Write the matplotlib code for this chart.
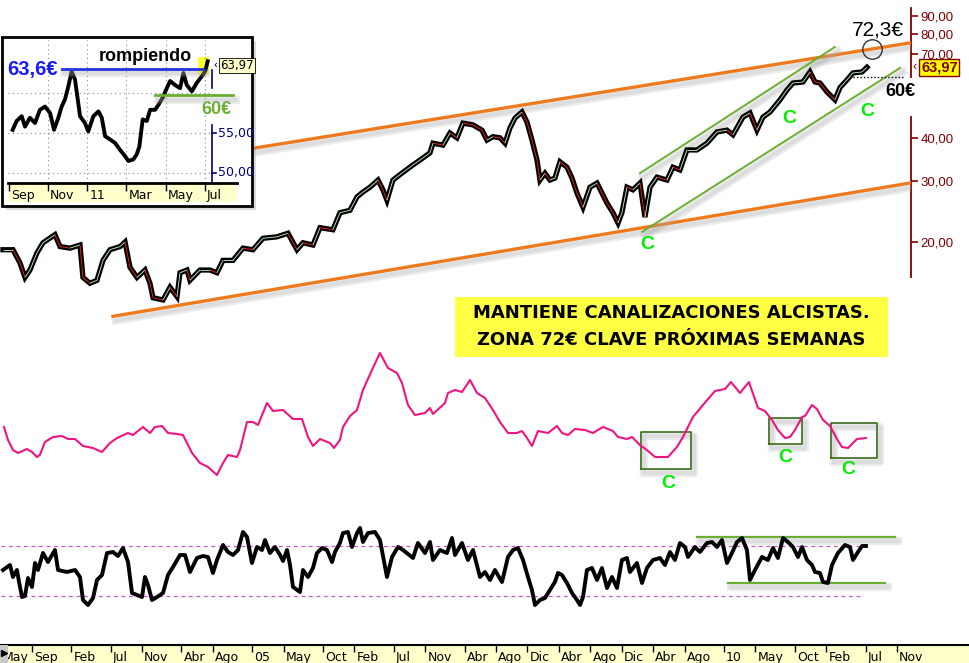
import numpy as np
import matplotlib.pyplot as plt
import matplotlib.patheffects as pe
from matplotlib.patches import Rectangle
from matplotlib.collections import LineCollection
from matplotlib.transforms import blended_transform_factory as blend

plt.rcParams['font.family'] = ['Liberation Sans', 'DejaVu Sans']

# x axis: months counted from May 2002
date_tick_m = [0, 4, 9, 14, 18, 23, 27, 32, 36, 41, 45, 50, 54, 59, 63, 67, 71, 75,
               79, 83, 87, 92, 96, 101, 105, 110, 114]
date_tick_lbl = ['May', 'Sep', 'Feb', 'Jul', 'Nov', 'Abr', 'Ago', '05', 'May', 'Oct', 'Feb',
                 'Jul', 'Nov', 'Abr', 'Ago', 'Dic', 'Abr', 'Ago', 'Dic', 'Abr', 'Ago', '10',
                 'May', 'Oct', 'Feb', 'Jul', 'Nov']

# precio semanal (EUR, escala log)
price_m = [0.31, 1.58, 2.47, 3.11, 3.74, 4.63, 5.4, 6.92, 7.56, 8.83, 10.1, 10.48, 11.37,
           12.26, 13.03, 13.92, 15.19, 15.83, 16.46, 17.35, 18.37, 19.0, 19.39, 20.66, 21.55,
           22.44, 22.82, 23.71, 24.09, 25.36, 26.63, 27.52, 28.29, 29.56, 30.83, 32.1, 33.37,
           35.15, 36.55, 37.7, 38.46, 39.73, 40.62, 42.27, 43.16, 44.44, 45.33, 46.09, 46.98,
           48.0, 48.63, 49.14, 49.9, 51.18, 52.45, 53.34, 54.61, 54.99, 56.26, 57.15, 58.04,
           58.8, 60.08, 61.22, 61.86, 62.62, 63.51, 64.15, 64.78, 65.42, 66.31, 66.95, 67.58,
           68.22, 68.6, 69.23, 69.87, 70.5, 71.14, 72.03, 72.67, 73.3, 74.07, 74.96, 75.85,
           76.48, 77.12, 77.88, 78.52, 79.02, 79.66, 80.42, 81.31, 81.95, 82.59, 83.48, 84.75,
           85.51, 86.4, 87.29, 88.56, 89.83, 91.11, 92.38, 93.14, 94.41, 95.3, 96.19, 96.95,
           97.85, 99.12, 100.01, 100.77, 102.04, 102.93, 103.57, 104.2, 105.09, 106.11,
           106.75, 107.64, 108.4, 109.55, 110.18]
price = [19.0, 19.0, 17.4, 15.8, 16.6, 18.6, 19.9, 21.0, 19.4, 19.2, 19.6, 15.8, 15.2,
         15.5, 17.7, 19.0, 19.4, 20.0, 16.9, 15.8, 16.6, 15.2, 13.8, 13.6, 14.8,
         13.9, 16.3, 16.6, 15.5, 16.6, 16.6, 16.3, 17.7, 17.7, 19.2, 19.0, 20.5,
         20.7, 21.2, 19.0, 19.9, 19.6, 22.0, 21.7, 24.3, 24.7, 27.0, 27.9, 28.8,
         30.2, 28.3, 26.4, 30.2, 31.8, 33.4, 34.5, 36.2, 38.6, 38.1, 41.3, 40.0,
         44.1, 43.6, 42.1, 39.4, 40.3, 40.0, 38.6, 42.7, 45.6, 47.5, 44.4, 39.4,
         34.5, 30.2, 31.6, 30.2, 30.6, 34.1, 32.9, 30.6, 27.7, 25.2, 28.8, 29.6,
         27.7, 25.9, 24.3, 22.7, 24.3, 28.8, 28.3, 29.6, 23.6, 28.8, 30.8, 30.2,
         32.9, 32.3, 36.9, 36.9, 38.6, 41.6, 42.1, 40.8, 45.9, 47.2, 42.1, 45.9,
         47.5, 51.5, 55.0, 57.6, 58.0, 62.0, 58.0, 57.6, 54.3, 51.5,
         55.9, 58.8, 61.6, 62.0, 63.97]

# oscilador rosa (distancia % a la media)
pink_m = [0.44, 0.95, 1.58, 2.22, 3.36, 4.0, 4.63, 5.0, 5.65, 6.67, 7.81, 8.58, 9.47, 10.48,
          11.76, 12.9, 13.92, 14.81, 16.2, 16.84, 18.11, 19.0, 19.64, 20.53, 21.29, 22.44,
          23.2, 24.35, 25.36, 26.38, 27.52, 28.29, 28.92, 30.07, 30.45, 31.34, 32.1, 32.74,
          33.88, 34.65, 35.92, 37.19, 38.33, 39.1, 39.73, 40.62, 41.89, 42.4, 43.16, 43.55,
          44.44, 45.33, 46.09, 47.23, 48.25, 49.27, 50.41, 51.05, 51.81, 52.7, 53.97, 54.61,
          54.99, 56.52, 56.9, 57.79, 58.68, 59.7, 60.59, 61.6, 62.62, 63.51, 64.53, 65.67,
          66.31, 66.95, 67.58, 68.35, 69.62, 70.76, 71.4, 72.16, 73.05, 74.32, 75.34, 76.61,
          77.88, 78.52, 79.66, 80.3, 81.31, 82.2, 83.22, 84.24, 84.87, 86.02, 86.78, 88.05,
          89.32, 90.85, 92.12, 92.89, 94.03, 95.17, 96.32, 97.21, 98.1, 98.86, 99.75, 100.39,
          101.03, 101.92, 102.3, 103.19, 103.82, 104.59, 105.48, 106.37, 107.0, 107.77,
          108.91, 110.05]
pink_v = [2.6, 0.0, -2.0, -2.6, -1.8, -2.4, -3.4, -3.0, -0.4, 0.6, 0.8, 0.2, 0.2, -1.2,
          -1.6, -2.4, -0.6, 0.4, 1.4, 1.0, 2.6, 1.4, 2.6, 2.8, 1.4, 1.2,
          1.0, -2.6, -4.6, -5.4, -7.0, -4.6, -3.0, -3.4, -2.0, 3.6, 3.6, 3.0,
          7.4, 5.8, 6.0, 4.2, 4.2, 0.6, -1.2, 0.2, -0.6, -1.6, 0.0, 2.6,
          4.8, 6.0, 10.0, 14.0, 17.4, 14.4, 13.4, 11.4, 7.0, 5.0, 5.4, 6.4,
          5.2, 7.4, 9.4, 10.0, 9.6, 12.0, 9.4, 8.4, 6.0, 3.6, 1.4, 1.4,
          1.8, 0.4, -1.2, 1.8, 1.4, 2.8, 1.4, 1.0, 2.2, 2.0, 1.4, 2.6,
          1.8, 0.6, 0.2, 0.6, -1.0, -2.0, -3.4, -3.4, -3.4, -1.4, 0.6, 4.6,
          7.0, 9.8, 10.2, 11.6, 9.4, 11.6, 6.4, 5.8, 4.0, 2.0, 0.4, 0.6,
          2.0, 4.6, 4.8, 7.0, 6.2, 4.0, 2.8, 0.2, -1.4, -1.6,
          0.2, 0.4]

# oscilador negro (tipo RSI, bandas 30/70)
osc_m = [0.31, 1.2, 1.58, 2.09, 2.35, 2.73, 3.11, 3.49, 4.0, 4.38, 4.76, 5.4, 6.03, 6.92,
         7.31, 8.45, 9.47, 10.1, 10.48, 11.12, 11.76, 12.26, 12.9, 13.54, 14.3, 14.93, 15.57,
         16.21, 16.72, 17.35, 17.99, 18.37, 18.75, 19.26, 19.9, 20.66, 21.29, 21.93, 22.82,
         23.46, 24.09, 24.98, 25.74, 26.38, 27.01, 27.52, 28.29, 28.92, 29.56, 30.2, 30.83,
         31.34, 31.97, 32.61, 33.25, 33.63, 34.26, 34.9, 35.54, 35.92, 36.43, 36.81, 37.19,
         38.08, 38.46, 39.1, 39.73, 40.24, 40.88, 41.51, 42.15, 42.53, 43.16, 43.55, 44.18,
         44.69, 45.33, 45.71, 46.09, 46.73, 47.62, 48.25, 49.14, 49.78, 50.54, 51.18, 52.45,
         53.08, 53.97, 54.61, 54.99, 55.88, 56.77, 57.41, 57.79, 58.68, 59.44, 60.08, 60.97,
         61.6, 62.24, 62.87, 63.77, 64.53, 65.17, 65.8, 66.44, 67.07, 67.58, 67.96, 68.6,
         69.23, 69.87, 70.5, 70.89, 71.4, 72.03, 72.67, 73.3, 73.69, 74.07, 74.57, 75.21,
         75.85, 76.48, 77.12, 77.75, 78.39, 79.02, 79.66, 80.04, 80.93, 81.57, 82.2, 82.97,
         83.86, 84.49, 85.13, 85.76, 86.4, 87.04, 87.42, 88.31, 88.94, 89.84, 90.47, 91.11,
         91.74, 92.38, 93.01, 93.65, 94.29, 94.92, 95.3, 95.94, 96.83, 97.59, 98.23, 98.86,
         99.5, 100.13, 100.77, 101.41, 101.92, 102.55, 103.19, 103.57, 104.2, 104.59, 105.22,
         105.73, 106.49, 107.38, 108.02, 108.4, 109.04, 109.55, 110.05]
osc_v = [50.8, 54.8, 45.2, 50.8, 41.2, 29.2, 30.0, 44.4, 37.2, 56.4, 50.8, 64.4, 57.2, 66.8,
         50.8, 49.2, 50.8, 45.2, 26.8, 22.8, 28.4, 42.8, 46.8, 64.4, 65.2, 62.0, 68.4,
         57.2, 32.4, 30.8, 29.2, 45.2, 38.8, 26.8, 29.2, 32.4, 46.8, 53.2, 62.8,
         62.8, 49.2, 60.4, 62.0, 61.2, 48.4, 58.8, 70.8, 65.2, 62.8, 66.8, 81.2,
         77.2, 56.4, 69.2, 66.8, 74.8, 64.4, 69.2, 62.8, 58.0, 66.8, 54.8, 37.2,
         33.2, 50.8, 45.2, 52.4, 64.4, 68.4, 66.8, 57.2, 65.2, 72.4, 80.4, 81.2,
         69.2, 80.4, 84.4, 73.2, 80.4, 81.2, 74.8, 45.2, 61.2, 69.2, 66.8, 60.4,
         72.4, 64.4, 73.2, 58.8, 66.8, 64.4, 76.4, 62.8, 72.4, 58.8, 66.8, 45.2,
         49.2, 42.8, 50.8, 41.2, 61.2, 66.8, 68.4, 58.8, 45.2, 34.8, 22.8, 26.8,
         28.4, 34.8, 41.2, 48.4, 46.8, 40.4, 32.4, 26.8, 22.8, 29.2, 50.8, 52.4,
         42.8, 52.4, 36.4, 45.2, 36.4, 58.8, 60.4, 49.2, 56.4, 40.4, 52.4, 58.8,
         60.4, 54.8, 65.2, 58.8, 72.4, 69.2, 61.2, 69.2, 65.2, 72.4, 73.2, 69.2,
         74.8, 56.4, 64.4, 73.2, 76.4, 66.8, 42.8, 50.8, 61.2, 58.8, 68.4, 60.4,
         76.4, 73.2, 69.2, 61.2, 69.2, 58.8, 54.8, 49.2, 48.4, 41.2, 40.4,
         54.8, 64.4, 70.8, 69.2, 58.8, 65.2, 70.0, 70.0]

# recuadro: ultimos 10 meses (meses desde sep 2010)
inset_t = [0.19, 0.39, 0.65, 0.82, 1.07, 1.33, 1.58, 1.84, 2.10, 2.30, 2.52, 2.69, 2.86, 3.03,
           3.20, 3.37, 3.49, 3.63, 3.88, 4.05, 4.31, 4.57, 4.74, 4.91, 5.16, 5.42, 5.67, 5.93,
           6.10, 6.35, 6.52, 6.66, 6.83, 7.04, 7.21, 7.46, 7.63, 7.85, 8.06, 8.23, 8.48, 8.74,
           8.91, 9.08, 9.34, 9.59, 9.85, 10.02, 10.15]
inset_p = [55.4, 56.5, 57.1, 55.8, 56.9, 56.25, 57.9, 58.3, 57.5, 55.4, 56.9, 58.3, 59.2, 60.8,
           62.7, 61.7, 59.6, 57.1, 56.25, 55.2, 57.1, 57.7, 56.9, 54.6, 54.2, 53.75, 52.9, 52.1,
           51.5, 51.7, 52.3, 53.3, 56.7, 56.5, 57.9, 57.9, 58.5, 59.4, 60.6, 61.5, 61.0, 60.6,
           62.5, 61.0, 60.2, 61.25, 62.1, 62.7, 63.97]
inset_tick_t = [0, 2, 4, 6, 8, 10]
inset_tick_lbl = ['Sep', 'Nov', '11', 'Mar', 'May', 'Jul']

price_ticks = [20, 30, 40, 70, 80, 90]
last_price = 63.97

ORANGE = '#ee7a1e'
LGREEN = '#6aae32'
CGREEN = '#00ee00'
DARKRED = '#800000'
PINK = '#f01482'
shadow = [pe.SimpleLineShadow(offset=(2, -3), shadow_color='#aaaaaa', alpha=0.22, linewidth=6),
          pe.SimpleLineShadow(offset=(2, -3), shadow_color='#aaaaaa', alpha=0.22, linewidth=3),
          pe.Normal()]

W, H = 970, 663
fig = plt.figure(figsize=(W / 100, H / 100), dpi=100)


def box(x0, y0, x1, y1):
    # pixel box (top-left origin) -> figure fraction rect
    return [x0 / W, 1 - y1 / H, (x1 - x0) / W, (y1 - y0) / H]


xlim = (-0.07, 115.78)

# ---------------- precio ----------------
ax = fig.add_axes(box(0, 0, 911, 340))
ax.set_yscale('log')
ax.set_xlim(*xlim)
ax.set_ylim(10.42, 100.07)
for s in ax.spines.values():
    s.set_visible(False)
ax.set_xticks([])
ax.yaxis.tick_right()
ax.set_yticks(price_ticks, [f'{v:.2f}'.replace('.', ',') for v in price_ticks])
ax.yaxis.set_minor_locator(plt.NullLocator())
ax.tick_params(axis='y', colors=DARKRED, labelsize=9.5, length=5, width=1.2, pad=2)
tr = blend(ax.transAxes, ax.transData)
ax.plot([1, 1], [60, 95], color=DARKRED, lw=1.3, transform=tr, clip_on=False)
ax.plot([1, 1], [15.8, 45.9], color=DARKRED, lw=1.3, transform=tr, clip_on=False)

ax.plot([32.4, 115.6], [37.4, 75.2], color=ORANGE, lw=2.4, path_effects=shadow, zorder=2)
ax.plot([14.3, 115.6], [12.2, 29.6], color=ORANGE, lw=2.4, path_effects=shadow, zorder=2)
ax.plot([81.3, 106.1], [31.6, 73.2], color=LGREEN, lw=1.4, path_effects=shadow, zorder=2)
ax.plot([81.6, 114.4], [21.4, 63.7], color=LGREEN, lw=1.4, path_effects=shadow, zorder=2)

ax.plot(price_m, price, color='black', lw=3.8, solid_joinstyle='miter', zorder=3)
pts = np.column_stack([price_m, price])
segs = np.stack([pts[:-1], pts[1:]], axis=1)
cols = ['#ff2020' if b < a else '#c8f5c8' for a, b in zip(price[:-1], price[1:])]
ax.add_collection(LineCollection(segs, colors=cols, linewidths=0.6, zorder=4))

ax.plot([108.4, 115], [60, 60], color='black', lw=1, ls=(0, (1, 1.5)), zorder=3)
ax.plot([110.8], [72.3], marker='o', ms=14, mfc='none', mec='#333333', mew=1, zorder=5)
ax.text(111.6, 82, '72,3€', fontsize=15, ha='center', va='center')
ax.text(114.4, 54.3, '60€', fontsize=13, fontweight='bold', ha='center', va='center')
for cm, cp in [(82.2, 19.7), (100.3, 45.6), (110.2, 47.5)]:
    ax.text(cm, cp, 'C', color=CGREEN, fontsize=14, fontweight='bold', ha='center', va='center')
ax.text(1.002, last_price, '‹', transform=tr, color=DARKRED, fontsize=9, ha='left', va='center')
ax.text(1.011, last_price, f'{last_price:.2f}'.replace('.', ','), transform=tr, color=DARKRED,
        fontsize=10.5, fontweight='bold', ha='left', va='center',
        bbox=dict(boxstyle='square,pad=0.12', fc='#ffff00', ec=DARKRED, lw=1))

# ---------------- oscilador rosa ----------------
ax2 = fig.add_axes(box(0, 340, 911, 495))
ax2.set_xlim(*xlim)
ax2.set_ylim(-11, 20)
ax2.axis('off')
ax2.plot(pink_m, pink_v, color=PINK, lw=1.5, zorder=3)
for (x0, x1, y0, y1) in [(81.44, 87.8, -5.8, 1.6), (97.72, 101.92, -0.8, 4.4),
                         (105.6, 111.45, -3.6, 3.4)]:
    ax2.plot([x0, x1, x1, x0, x0], [y0, y0, y1, y1, y0], color='#3b6b1c', lw=1.2,
             path_effects=shadow, zorder=2)
for cm, cv in [(84.87, -8.6), (99.75, -3.6), (107.77, -6.0)]:
    ax2.text(cm, cv, 'C', color=CGREEN, fontsize=14, fontweight='bold', ha='center', va='center')

# ---------------- oscilador negro ----------------
ax3 = fig.add_axes(box(0, 500, 911, 635))
ax3.set_xlim(*xlim)
ax3.set_ylim(-1.2, 106.8)
ax3.axis('off')
ax3.hlines([70, 30], 0, 109.55, colors='#cc55cc', lw=0.9, linestyles=(0, (3, 3)))
ax3.plot([88.56, 113.74], [77.2, 77.2], color=LGREEN, lw=1.6, path_effects=shadow)
ax3.plot([92.5, 112.47], [40.4, 40.4], color=LGREEN, lw=1.6, path_effects=shadow)
ax3.plot(osc_m, osc_v, color='black', lw=2.8, solid_joinstyle='round', zorder=3)

# ---------------- eje de fechas ----------------
axd = fig.add_axes(box(0, 645, 970, 663))
axd.set_xlim(-0.07, 123.28)
axd.set_ylim(0, 1)
axd.set_facecolor('#ffffcc')
axd.set_xticks([])
axd.set_yticks([])
for k, s in axd.spines.items():
    s.set_visible(k == 'top')
axd.spines['top'].set_linewidth(1.5)
trd = blend(axd.transData, axd.transAxes)
axd.vlines(date_tick_m, 0.6, 1, colors='black', lw=1, transform=trd)
for m, lbl in zip(date_tick_m, date_tick_lbl):
    axd.annotate(lbl, (m, 0.32), xycoords=trd, xytext=(1.5, 0), textcoords='offset points',
                 fontsize=9, ha='left', va='center', family='DejaVu Sans')
axd.add_patch(Rectangle((0, 0), 0.0085, 1, transform=axd.transAxes, fc='#c8c8c8', ec='none',
                        zorder=5))
axd.plot([0.004], [0.55], marker='>', color='black', ms=4, transform=axd.transAxes, zorder=6)

# ---------------- recuadro ----------------
fig.patches.append(Rectangle((6 / W, 1 - 210 / H), 250 / W, 169 / H, transform=fig.transFigure,
                             fc='#888888', alpha=0.3, ec='none', zorder=3))
fig.patches.append(Rectangle((2 / W, 1 - 206 / H), 250 / W, 169 / H, transform=fig.transFigure,
                             fc='white', ec='black', lw=2, zorder=3))

axi = fig.add_axes(box(8, 40, 212, 183), zorder=5)
axi.set_xlim(-0.05, 10.37)
axi.set_ylim(48.75, 66.625)
for s in axi.spines.values():
    s.set_visible(False)
axi.set_xticks(inset_tick_t[1:])
axi.set_yticks([50, 55, 60])
axi.tick_params(length=0, labelleft=False, labelbottom=False)
axi.grid(True, color='#888888', ls=(0, (1, 3)), lw=0.8)
tri = blend(axi.transAxes, axi.transData)
axi.plot([1, 1], [48.75, 56], color='#000080', lw=1.2, transform=tri, clip_on=False)
axi.plot([1, 1], [60.6, 62.9], color='#000080', lw=1.2, transform=tri, clip_on=False)
for v in [50, 55]:
    axi.plot([1, 1.02], [v, v], color='#000080', lw=1.2, transform=tri, clip_on=False)
    axi.text(1.03, v, f'{v:.2f}'.replace('.', ','), transform=tri, color='#000080',
             fontsize=9, ha='left', va='center', family='DejaVu Sans')
axi.add_patch(Rectangle((9.66, 62.25), 0.56, 2.25, fc='#ffff33', ec='none', zorder=1))
axi.plot(inset_t, inset_p, color='black', lw=2.8, zorder=3)
axi.plot([2.69, 9.93], [63.0, 63.0], color='#2233dd', lw=2, path_effects=shadow, zorder=4)
axi.plot([7.46, 11.45], [59.7, 59.7], color=LGREEN, lw=2, path_effects=shadow, zorder=4,
         clip_on=False)
axi.text(-0.1, 63.0, '63,6€', color='#1a1aff', fontsize=14.5, fontweight='bold', ha='left',
         va='center', clip_on=False)
axi.text(6.95, 64.6, 'rompiendo', fontsize=13, fontweight='bold', ha='center', va='center')
axi.text(10.58, 58.0, '60€', color=LGREEN, fontsize=13, fontweight='bold', ha='center',
         va='center', clip_on=False)
axi.text(1.005, last_price - 0.5, '‹', transform=tri, fontsize=8, ha='left', va='center')
axi.text(1.04, last_price - 0.5, f'{last_price:.2f}'.replace('.', ','), transform=tri,
         fontsize=8.5, ha='left', va='center', family='DejaVu Sans',
         bbox=dict(boxstyle='square,pad=0.1', fc='#ffffcc', ec='black', lw=0.6))

axid = fig.add_axes(box(8, 183, 237, 202), zorder=5)
axid.set_xlim(-0.05, 11.65)
axid.set_ylim(0, 1)
axid.set_facecolor('#ffffcc')
axid.set_xticks([])
axid.set_yticks([])
for k, s in axid.spines.items():
    s.set_visible(k == 'top')
axid.spines['top'].set_linewidth(2)
trid = blend(axid.transData, axid.transAxes)
axid.vlines(inset_tick_t, 0.6, 1, colors='black', lw=1, transform=trid)
for t, lbl in zip(inset_tick_t, inset_tick_lbl):
    axid.annotate(lbl, (t, 0.35), xycoords=trid, xytext=(1.5, 0), textcoords='offset points',
                  fontsize=9, ha='left', va='center', family='DejaVu Sans')

# ---------------- rotulo ----------------
fig.patches.append(Rectangle((455 / W, 1 - 357 / H), 433 / W, 60 / H, transform=fig.transFigure,
                             fc='#ffff44', ec='none', zorder=4))
fig.text(0.6923, 1 - 313 / H, 'MANTIENE CANALIZACIONES ALCISTAS.', fontsize=13,
         fontweight='bold', ha='center', va='center', family='DejaVu Sans', zorder=6)
fig.text(0.6923, 1 - 340 / H, 'ZONA 72€ CLAVE PRÓXIMAS SEMANAS', fontsize=13,
         fontweight='bold', ha='center', va='center', family='DejaVu Sans', zorder=6)

fig.savefig('out.png', dpi=100)
